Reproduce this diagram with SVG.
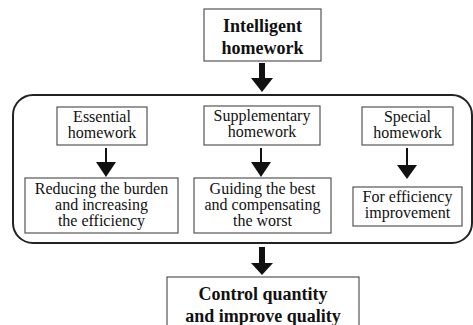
<svg xmlns="http://www.w3.org/2000/svg" width="473" height="325" viewBox="0 0 473 325">
<defs>
<style>
text{font-family:'Liberation Serif','DejaVu Serif',serif}
.box{fill:#fff;stroke:#555;stroke-width:1.2}
.t{font-size:16px;fill:#111;text-anchor:middle}
.b{font-size:18px;font-weight:bold;fill:#111;text-anchor:middle}
.thin{stroke:#111;stroke-width:2;fill:none}
.thick{stroke:#111;stroke-width:6;fill:none}
.head{fill:#111}
</style>
</defs>
<rect width="473" height="325" fill="#fff"/>
<g id="group-frame">
<rect x="13" y="95" width="459" height="148" rx="20" ry="20" fill="none" stroke="#222" stroke-width="2"/>
</g>
<g font-family="Liberation Serif, DejaVu Serif, serif">
<g id="intelligent">
<rect class="box" x="204" y="9" width="117" height="52"/>
<text class="b" x="262.5" y="32">Intelligent</text>
<text class="b" x="262.5" y="54">homework</text>
</g>
<g id="essential">
<rect class="box" x="57" y="107" width="90" height="38"/>
<text class="t" x="102" y="122">Essential</text>
<text class="t" x="102" y="138">homework</text>
</g>
<g id="supplementary">
<rect class="box" x="204" y="106" width="116" height="39"/>
<text class="t" x="262" y="121">Supplementary</text>
<text class="t" x="262" y="137">homework</text>
</g>
<g id="special">
<rect class="box" x="362" y="107" width="91" height="38"/>
<text class="t" x="407.5" y="122">Special</text>
<text class="t" x="407.5" y="138">homework</text>
</g>
<g id="reducing">
<rect class="box" x="25" y="178" width="153" height="55"/>
<text class="t" x="101.5" y="194">Reducing the burden</text>
<text class="t" x="101.5" y="210">and increasing</text>
<text class="t" x="101.5" y="226">the efficiency</text>
</g>
<g id="guiding">
<rect class="box" x="194" y="178" width="137" height="55"/>
<text class="t" x="262.5" y="194">Guiding the best</text>
<text class="t" x="262.5" y="210">and compensating</text>
<text class="t" x="262.5" y="226">the worst</text>
</g>
<g id="efficiency">
<rect class="box" x="353" y="187" width="109" height="39"/>
<text class="t" x="407.5" y="202">For efficiency</text>
<text class="t" x="407.5" y="218">improvement</text>
</g>
<g id="control">
<rect class="box" x="167" y="277" width="192" height="60"/>
<text class="b" x="263" y="300">Control quantity</text>
<text class="b" x="263" y="322">and improve quality</text>
</g>
</g>
<g id="connectors">
<line class="thick" x1="262" y1="63" x2="262" y2="79"/>
<polygon class="head" points="251,78 273,78 262,92"/>
<line class="thin" x1="106" y1="148" x2="106" y2="163"/>
<polygon class="head" points="96,162 116,162 106,177"/>
<line class="thin" x1="261" y1="148" x2="261" y2="163"/>
<polygon class="head" points="251,162 271,162 261,177"/>
<line class="thin" x1="407" y1="148" x2="407" y2="166"/>
<polygon class="head" points="397,165 417,165 407,179"/>
<line class="thick" x1="262" y1="247" x2="262" y2="264"/>
<polygon class="head" points="251,263 273,263 262,275"/>
</g>
</svg>
